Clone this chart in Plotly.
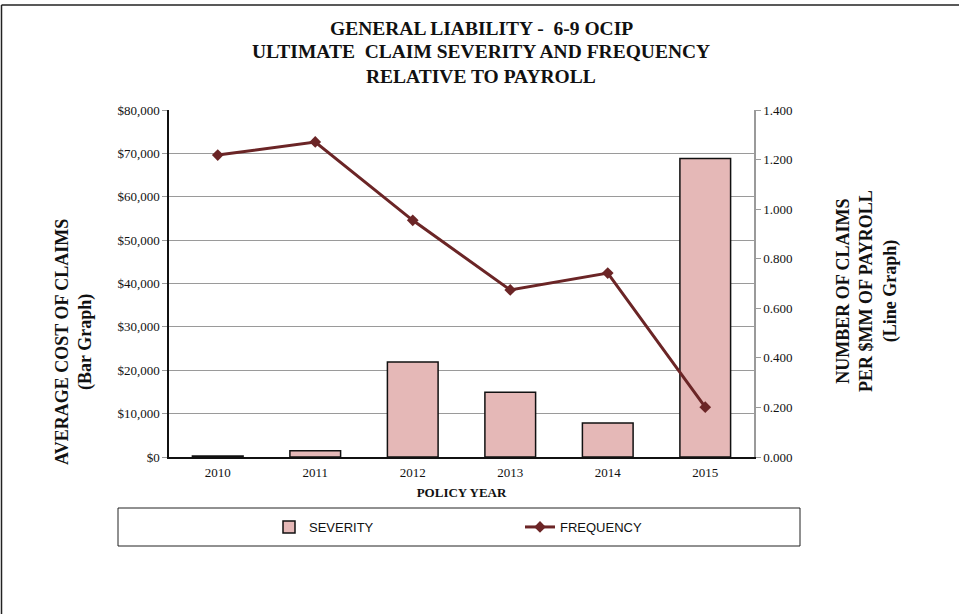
import plotly.graph_objects as go

# Policy years and the two series
years = ["2010", "2011", "2012", "2013", "2014", "2015"]
severity = [250, 1450, 21900, 14900, 7850, 68800]          # average cost of claims ($)
frequency = [1.218, 1.271, 0.955, 0.674, 0.742, 0.201]     # claims per $MM of payroll

title_lines = [
    "GENERAL LIABILITY -\u00a0 6-9 OCIP",
    "ULTIMATE\u00a0 CLAIM SEVERITY AND FREQUENCY",
    "RELATIVE TO PAYROLL",
]

W, H = 959, 614
L, R, T, B = 169, 754, 110, 457   # plot area in pixels


def px(x):
    return (x - L) / (R - L)


def py(y):
    return (B - y) / (B - T)


serif = "Liberation Serif, Times New Roman, serif"
sans = "Liberation Sans, Arial, sans-serif"
maroon = "#6B2526"
grid = "#9A9A9A"

fig = go.Figure()

fig.add_trace(go.Bar(
    x=years, y=severity, name="SEVERITY",
    marker=dict(color="#E5B8B7", line=dict(color="#111111", width=1.5)),
    yaxis="y",
))
fig.add_trace(go.Scatter(
    x=years, y=frequency, name="FREQUENCY", mode="lines+markers",
    line=dict(color=maroon, width=3),
    marker=dict(symbol="diamond", size=9, color=maroon),
    yaxis="y2",
))

annotations = []
for i, line in enumerate(title_lines):
    annotations.append(dict(
        text=line, x=px(481), y=py(28 + 24 * i), xref="paper", yref="paper",
        xanchor="center", yanchor="middle", showarrow=False,
        font=dict(family=serif, size=19.5, color="#111111", weight="bold"),
    ))

annotations.append(dict(
    text="AVERAGE COST OF CLAIMS<br>(Bar Graph)", textangle=-90,
    x=px(74), y=py(342), xref="paper", yref="paper",
    xanchor="center", yanchor="middle", showarrow=False,
    font=dict(family=serif, size=18, color="#111111", weight="bold"),
))
annotations.append(dict(
    text="NUMBER OF CLAIMS<br>PER $MM OF PAYROLL<br>(Line Graph)", textangle=-90,
    x=px(867), y=py(291), xref="paper", yref="paper",
    xanchor="center", yanchor="middle", showarrow=False,
    font=dict(family=serif, size=18, color="#111111", weight="bold"),
))

shapes = [
    # outer frame (left and top edges)
    dict(type="line", xref="paper", yref="paper",
         x0=px(1.5), x1=px(1.5), y0=py(5), y1=py(H + 5),
         line=dict(color="#222222", width=1.5)),
    dict(type="line", xref="paper", yref="paper",
         x0=px(1.5), x1=px(W + 5), y0=py(5), y1=py(5),
         line=dict(color="#222222", width=1.5)),
    # legend box
    dict(type="rect", xref="paper", yref="paper",
         x0=px(118), x1=px(800), y0=py(508), y1=py(546),
         line=dict(color="#222222", width=1), fillcolor="rgba(0,0,0,0)"),
]

fig.update_layout(
    width=W, height=H,
    margin=dict(l=L, r=W - R, t=T, b=H - B, pad=0),
    paper_bgcolor="white", plot_bgcolor="white",
    bargap=0.48,
    showlegend=True,
    legend=dict(
        orientation="h", x=px(269), y=py(527), xanchor="left", yanchor="middle",
        xref="paper", yref="paper",
        font=dict(family=sans, size=13, color="#111111"),
        entrywidth=206, entrywidthmode="pixels",
        bgcolor="rgba(0,0,0,0)", traceorder="normal",
    ),
    xaxis=dict(
        type="category", showgrid=False, showline=True, linecolor="#111111", linewidth=1.5,
        ticks="outside", ticklen=3, tickcolor="rgba(0,0,0,0)",
        tickfont=dict(family=serif, size=13, color="#111111"),
        title=dict(text="<b>POLICY YEAR</b>", font=dict(family=serif, size=13, color="#111111"),
                   standoff=9),
    ),
    yaxis=dict(
        range=[0, 80000], dtick=10000, tickformat="$,.0f",
        showgrid=True, gridcolor=grid, gridwidth=1,
        showline=True, linecolor="#111111", linewidth=1.5,
        ticks="outside", ticklen=5, tickcolor=grid,
        tickfont=dict(family=serif, size=13, color="#111111"),
        zeroline=False,
    ),
    yaxis2=dict(
        range=[0, 1.4], dtick=0.2, tickformat=".3f",
        overlaying="y", side="right", showgrid=False,
        showline=True, linecolor=grid, linewidth=1.5,
        ticks="outside", ticklen=5, tickcolor=grid,
        tickfont=dict(family=serif, size=13, color="#111111"),
        zeroline=False,
    ),
    annotations=annotations,
    shapes=shapes,
)

fig.write_html("out.html")
